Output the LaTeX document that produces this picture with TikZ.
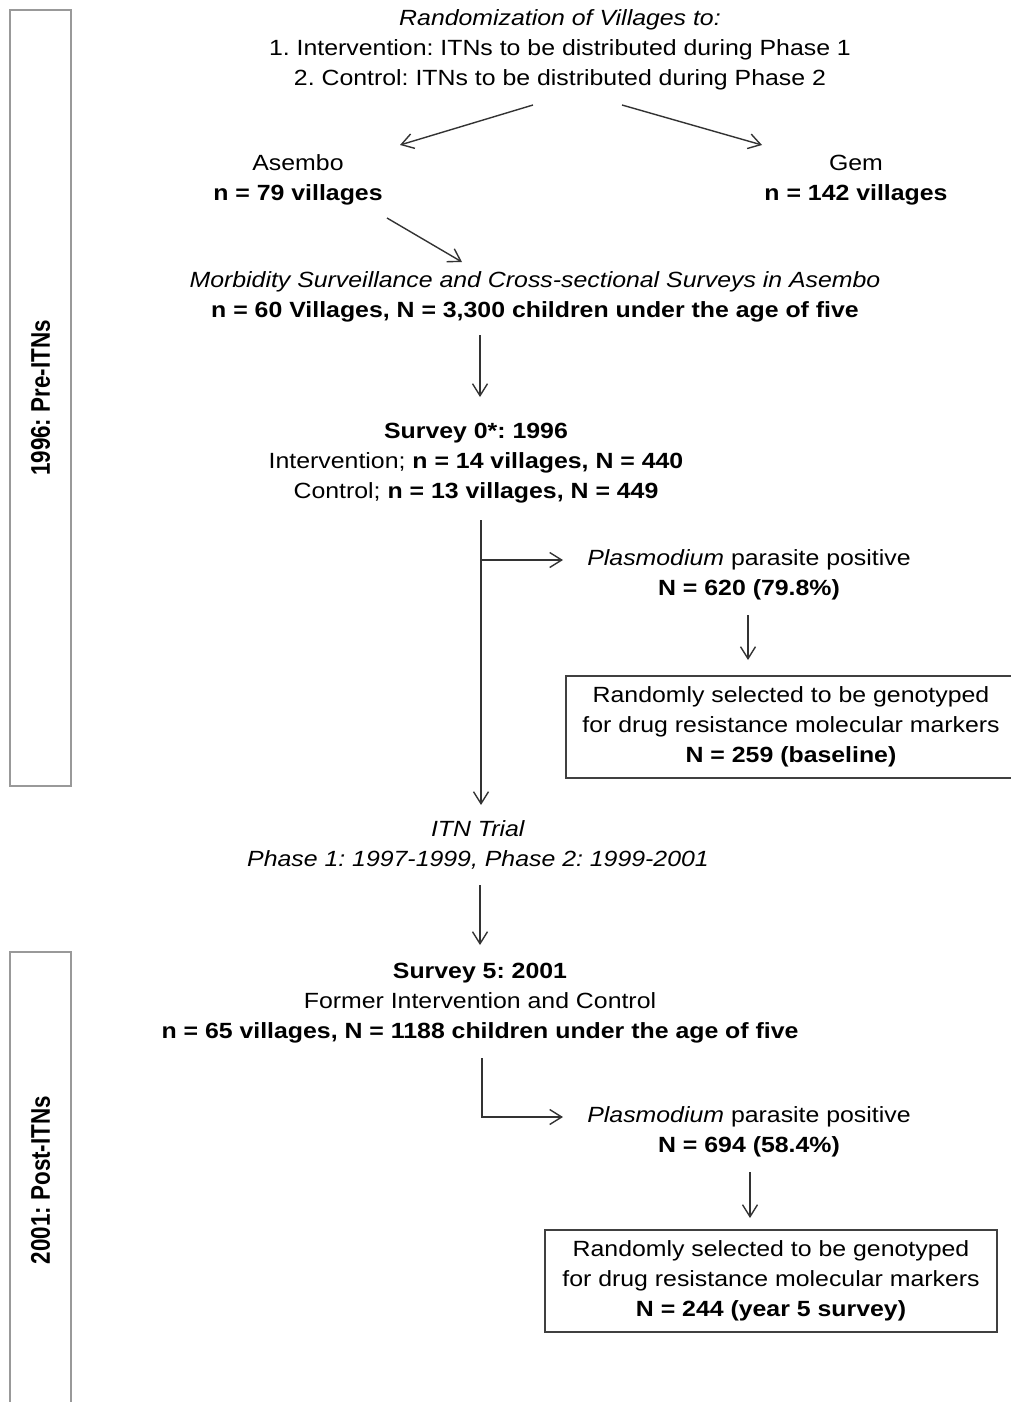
\documentclass[tikz,border=0pt]{standalone}
\usepackage{fontspec}
\setmainfont{Liberation Sans}[FakeStretch=1.13]
\newfontfamily\sidefont{Liberation Sans}[FakeStretch=0.83]
\usepackage{tikz}
\usetikzlibrary{positioning, calc, arrows.meta}
\frenchspacing

\begin{document}
\begin{tikzpicture}[x=1pt, y=-1pt, >={Straight Barb[length=12pt,width=15pt]}, font=\fontsize{22}{30}\selectfont]
        % Define block styles
        \tikzstyle{txt} = [inner sep=0pt, align=center]
        \tikzstyle{block} = [rectangle, draw=black!75, line width=1.2pt, align=center, minimum height=102pt]
        \tikzstyle{phase} = [rectangle, draw=black!40, line width=1.2pt, rotate=90, minimum height=61pt, font=\sidefont\fontsize{27}{30}\selectfont\bfseries]
        \tikzstyle{line} = [draw=black!80, line width=1.4pt]

        \useasboundingbox (0,0) rectangle (1010,1402);

        % Place nodes
        \node [phase, minimum width=776pt] (pre) at (40.5,398) {1996: Pre-ITNs};
        \node [phase, minimum width=456pt] (post) at (40.5,1180) {2001: Post-ITNs};

        \node [txt] (title) at (560,50) {\textit{Randomization of Villages to:}\\1. Intervention: ITNs to be distributed during Phase 1\\2. Control: ITNs to be distributed during Phase 2};
        \node [txt] (asembo) at (298,180) {Asembo\\\textbf{n = 79 villages}};
        \node [txt] (gem) at (856,180) {Gem\\\textbf{n = 142 villages}};
        \node [txt] (morb) at (535,297) {\textit{Morbidity Surveillance and Cross-sectional Surveys in Asembo}\\\textbf{n = 60 Villages, N = 3,300 children under the age of five}};
        \node [txt] (survey0) at (476,463) {\textbf{Survey 0*: 1996}\\Intervention; \textbf{n = 14 villages, N = 440}\\Control; \textbf{n = 13 villages, N = 449}};
        \node [txt] (plas1) at (749,575) {\textit{Plasmodium} parasite positive\\\textbf{N = 620 (79.8\%)}};
        \node [block, minimum width=450pt] (geno1) at (791,727) {Randomly selected to be genotyped\\for drug resistance molecular markers\\\textbf{N = 259 (baseline)}};
        \node [txt] (itn) at (478,845) {\textit{ITN Trial}\\\textit{Phase 1: 1997-1999, Phase 2: 1999-2001}};
        \node [txt] (survey5) at (480,1003) {\textbf{Survey 5: 2001}\\Former Intervention and Control\\\textbf{n = 65 villages, N = 1188 children under the age of five}};
        \node [txt] (plas2) at (749,1132) {\textit{Plasmodium} parasite positive\\\textbf{N = 694 (58.4\%)}};
        \node [block, minimum width=452pt] (geno2) at (771,1281) {Randomly selected to be genotyped\\for drug resistance molecular markers\\\textbf{N = 244 (year 5 survey)}};

        \coordinate (br1) at ($(survey0.center)+(5,97)$);

        % Draw connections as arrows
        \draw [line, ->] ($(title.center)+(-27,55)$) -- ($(asembo.center)+(102,-35)$);
        \draw [line, ->] ($(title.center)+(62,55)$) -- ($(gem.center)+(-94,-35)$);
        \draw [line, ->] ($(asembo.center)+(89,38)$) -- ($(morb.center)+(-73,-35)$);
        \draw [line, ->] ($(morb.center)+(-55,38)$) -- ($(survey0.center)+(4,-66)$);
        \draw [line, ->] ($(survey0.center)+(5,57)$) -- ($(itn.center)+(3,-40)$);
        \draw [line, ->] (br1) -- ($(plas1.center)+(-186,-15)$);
        \draw [line, ->] ($(plas1.center)+(-1,40)$) -- ($(geno1.center)+(-43,-67)$);
        \draw [line, ->] ($(itn.center)+(2,40)$) -- ($(survey5.center)+(0,-58)$);
        \draw [line, ->] ($(survey5.center)+(2,55)$) |- ($(plas2.center)+(-186,-15)$);
        \draw [line, ->] ($(plas2.center)+(1,40)$) -- ($(geno2.center)+(-21,-63)$);
    \end{tikzpicture}
\end{document}
